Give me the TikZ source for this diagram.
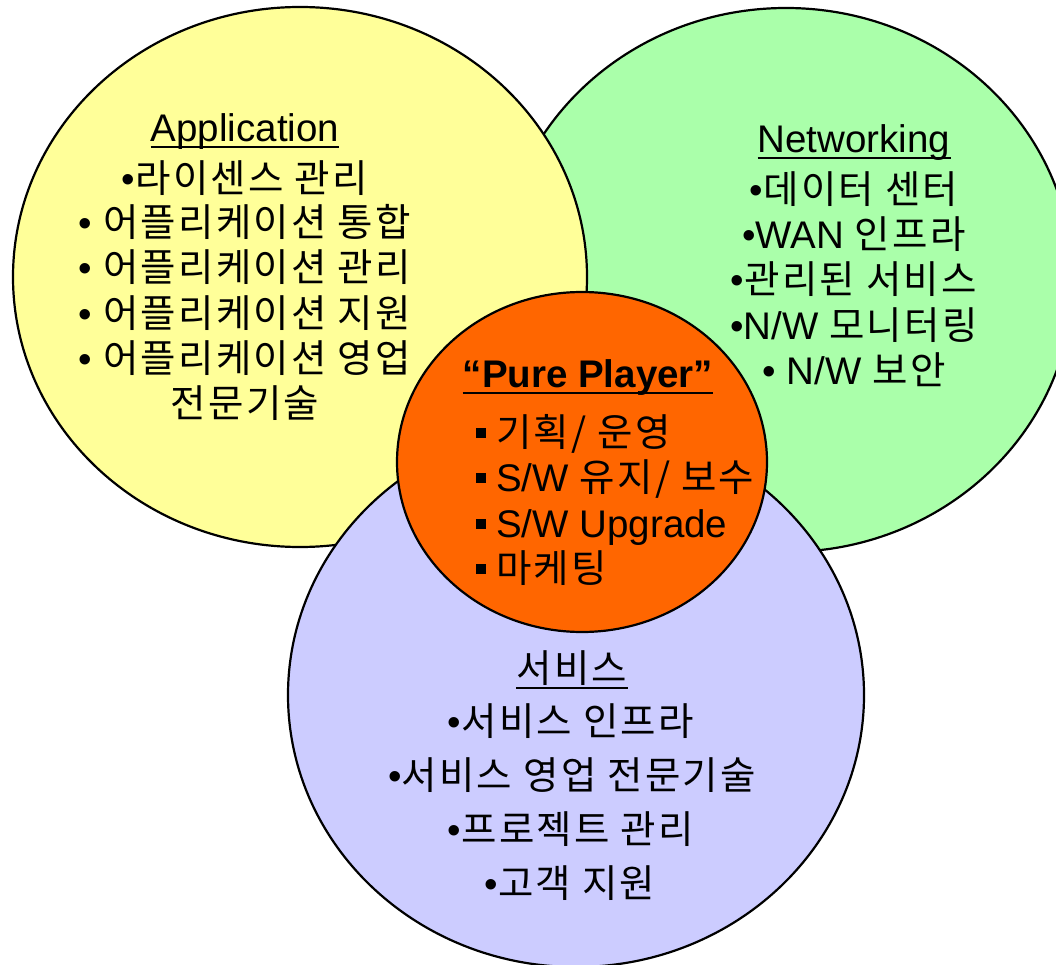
\documentclass[tikz,border=0pt]{standalone}
\usepackage{fontspec}
\setmainfont{Liberation Sans}
\newfontfamily\kr[LetterSpace=6]{Noto Sans CJK KR}
\usetikzlibrary{shapes.geometric}
\newcommand\K[1]{{\kr #1}}
\newcommand\sqb{\rule[8pt]{10pt}{10pt}\hspace{10pt}}
\definecolor{appyellow}{HTML}{FFFF99}
\definecolor{netgreen}{HTML}{AAFFAA}
\definecolor{svcpurple}{HTML}{CCCCFF}
\definecolor{pureorange}{HTML}{FF6600}
\begin{document}
\begin{tikzpicture}[x=1pt,y=-1pt,
  blob/.style={ellipse, draw=black, line width=2.2pt, inner sep=0pt},
  txt/.style={inner sep=0pt, anchor=base, font=\fontsize{38.5}{42}\selectfont},
  item/.style={inner sep=0pt, anchor=base west, font=\fontsize{38.5}{42}\selectfont},
  ul/.style={line width=2.2pt}]
\useasboundingbox (0,0) rectangle (1056,965);
% circles
\node[blob, fill=netgreen, minimum width=574pt, minimum height=544pt] (net) at (786,280) {};
\node[blob, fill=appyellow, minimum width=574pt, minimum height=540pt] (app) at (300,277) {};
\node[blob, fill=svcpurple, minimum width=576pt, minimum height=544pt] (svc) at (576,695) {};
\node[blob, fill=pureorange, minimum width=370pt, minimum height=340pt] (pure) at (582,462) {};
% Application
\node[txt] (a0) at (245,142) {Application};
\draw[ul] ([yshift=-5pt]a0.base west) -- ([yshift=-5pt]a0.base east);
\node[txt] (a1) at (245,193) {•\K{라이센스 관리}};
\node[txt] (a2) at (245,237) {• \K{어플리케이션 통합}};
\node[txt] (a3) at (245,282) {• \K{어플리케이션 관리}};
\node[txt] (a4) at (245,327) {• \K{어플리케이션 지원}};
\node[txt] (a5) at (245,372) {• \K{어플리케이션 영업}};
\node[txt] (a6) at (245,417) {\K{전문기술}};
% Networking
\node[txt] (n0) at (854,153) {Networking};
\draw[ul] ([yshift=-5pt]n0.base west) -- ([yshift=-5pt]n0.base east);
\node[txt] (n1) at (854,204) {•\K{데이터 센터}};
\node[txt] (n2) at (854,249) {•WAN \K{인프라}};
\node[txt] (n3) at (854,294) {•\K{관리된 서비스}};
\node[txt] (n4) at (854,339) {•N/W \K{모니터링}};
\node[txt] (n5) at (854,384) {• N/W \K{보안}};
% Pure Player
\node[txt] (p0) at (588,387) {\bfseries “Pure Player”};
\draw[ul] ([yshift=-6pt]p0.base west) -- ([yshift=-6pt]p0.base east);
\node[item] (p1) at (476,446) {\sqb\K{기획/ 운영}};
\node[item] (p2) at (476,491) {\sqb S/W \K{유지/ 보수}};
\node[item] (p3) at (476,537) {\sqb S/W Upgrade};
\node[item] (p4) at (476,582) {\sqb\K{마케팅}};
% Service
\node[txt] (s0) at (572,682) {\K{서비스}};
\draw[ul] ([yshift=-6pt]s0.base west) -- ([yshift=-6pt]s0.base east);
\node[txt] (s1) at (571,735) {•\K{서비스 인프라}};
\node[txt] (s2) at (572,789) {•\K{서비스 영업 전문기술}};
\node[txt] (s3) at (571,843) {•\K{프로젝트 관리}};
\node[txt] (s4) at (570,897) {•\K{고객 지원}};
\end{tikzpicture}
\end{document}
